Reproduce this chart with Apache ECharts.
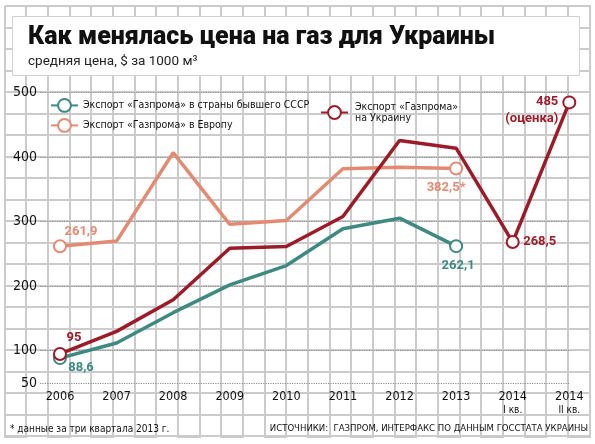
<!DOCTYPE html>
<html lang="ru">

<head>
    <meta charset="UTF-8">
    <title>Как менялась цена на газ для Украины</title>
    <script src="https://cdn.jsdelivr.net/npm/echarts@6/dist/echarts.min.js"></script>
    <style>
        html,
        body {
            margin: 0;
            padding: 0;
            background: #fff;
        }

        #mChart {
            width: 595px;
            height: 444px;
        }
    </style>
</head>

<body>
    <div id="mChart"></div>

    <script type="text/javascript">
        // годы и кварталы по оси X
        var years = ['2006', '2007', '2008', '2009', '2010', '2011', '2012', '2013', '2014', '2014']
        var quarters = ['', '', '', '', '', '', '', '', 'I кв.', 'II кв.']

        // цены, $ за 1000 м3
        var fsu = [88.6, 112, 159, 202, 232, 289, 305.5, 262.1, null, null]
        var europe = [261.9, 270, 407, 296, 302, 382, 384.5, 382.5, null, null]
        var ukraine = [95, 130, 179, 259, 261.5, 308, 426, 414, 268.5, 485]

        // подписи значений (пусто = без подписи и без кружка)
        var fsuLabels = ['88,6', '', '', '', '', '', '', '262,1', '', '']
        var europeLabels = ['261,9', '', '', '', '', '', '', '382,5*', '', '']
        var ukraineLabels = ['95', '', '', '', '', '', '', '', '268,5', '485']

        var yTicks = [50, 100, 200, 300, 400, 500]

        var names = {
            fsu: 'Экспорт «Газпрома» в страны бывшего СССР',
            europe: 'Экспорт «Газпрома» в Европу',
            ukraine: 'Экспорт «Газпрома» на Украину'
        }
        var colors = { fsu: '#3e8a82', europe: '#e38b72', ukraine: '#9c1b28' }

        var labelOffsets = {
            fsu: { 0: [21, 10], 7: [2, 20] },
            europe: { 0: [21, -15], 7: [-10, 19] },
            ukraine: { 0: [14, -16], 8: [27, 0], 9: [-11, 8] }
        }

        var cond = '"DejaVu Sans Condensed", "Liberation Sans Narrow", sans-serif'

        function buildData(values, labels, key) {
            var out = []
            values.forEach(function (v, i) {
                if (v == null) return
                var item = { value: [i, v], symbol: 'none' }
                if (labels[i]) {
                    item.symbol = 'emptyCircle'
                    item.label = {
                        show: true,
                        position: 'inside',
                        offset: labelOffsets[key][i],
                        formatter: labels[i],
                        color: colors[key],
                        fontFamily: 'Roboto',
                        fontWeight: 'bold',
                        fontSize: 13
                    }
                }
                out.push(item)
            })
            return out
        }

        function lineSeries(key, values, labels) {
            return {
                name: names[key],
                type: 'line',
                symbol: 'emptyCircle',
                symbolSize: 12,
                clip: false,
                data: buildData(values, labels, key),
                lineStyle: { color: colors[key], width: 3.5 },
                itemStyle: { color: colors[key], borderWidth: 3 },
                emphasis: { disabled: true }
            }
        }

        var ukraineSeries = lineSeries('ukraine', ukraine, ukraineLabels)
        // последняя точка: 485 (оценка)
        var lastItem = ukraineSeries.data[ukraineSeries.data.length - 1]
        lastItem.label.align = 'right'
        lastItem.label.formatter = '{a|' + ukraineLabels[9] + '}\n{b|(оценка)}'
        lastItem.label.rich = {
            a: { fontFamily: 'Roboto', fontWeight: 'bold', fontSize: 13, lineHeight: 17, color: colors.ukraine, align: 'right' },
            b: { fontFamily: 'Roboto', fontSize: 13, lineHeight: 17, color: colors.ukraine, align: 'right' }
        }

        // фон в клетку: две ломаные «змейкой», лишние отрезки ложатся на рамку
        var paperTop = 6, paperBottom = 437, paperLeft = 5, paperRight = 590
        var vPts = [], hPts = []
        for (var k = 0; k <= 27; k++) {
            var gx = Math.round(4.5 + k * 21.67)
            if (k % 2 === 0) { vPts.push([gx, paperTop], [gx, paperBottom]) } else { vPts.push([gx, paperBottom], [gx, paperTop]) }
        }
        for (var j = 0; j <= 20; j++) {
            var gy = Math.round(6.2 + j * 21.5)
            if (j % 2 === 0) { hPts.push([paperLeft, gy], [paperRight, gy]) } else { hPts.push([paperRight, gy], [paperLeft, gy]) }
        }

        var paperStyle = { fill: null, stroke: '#cbcbcb', lineWidth: 2 }
        var bg = []
        bg.push({ type: 'polyline', id: 'paperV', z: 0, silent: true, shape: { points: vPts }, style: paperStyle })
        bg.push({ type: 'polyline', id: 'paperH', z: 0, silent: true, shape: { points: hPts }, style: paperStyle })
        bg.push({ type: 'rect', id: 'box', z: 1, shape: { x: 12.5, y: 16.5, width: 567, height: 59 }, style: { fill: '#fff', stroke: '#d0d0d0', lineWidth: 1 } })
        bg.push({ type: 'text', id: 'title', z: 5, style: { text: 'Как менялась цена на газ для Украины', x: 28, y: 38, verticalAlign: 'middle', fill: '#111', font: '900 25px Roboto' } })
        bg.push({ type: 'text', id: 'sub', z: 5, style: { text: 'средняя цена, $ за 1000 м³', x: 28, y: 62, verticalAlign: 'middle', fill: '#222', font: '13.5px Roboto' } })
        bg.push({ type: 'text', id: 'note', z: 5, style: { text: '* данные за три квартала 2013 г.', x: 10, y: 429, verticalAlign: 'middle', fill: '#111', font: '10px ' + cond } })
        bg.push({ type: 'text', id: 'src', z: 5, style: { text: 'ИСТОЧНИКИ:  ГАЗПРОМ, ИНТЕРФАКС ПО ДАННЫМ ГОССТАТА УКРАИНЫ', x: 588, y: 429, align: 'right', verticalAlign: 'middle', fill: '#111', font: '9.5px ' + cond } })

        var splitColors = []
        for (var t = 50; t <= 500; t += 50) {
            splitColors.push(yTicks.indexOf(t) > -1 ? '#8e8e8e' : 'rgba(0,0,0,0)')
        }

        var legendText = { fontFamily: cond, fontSize: 10.5, color: '#111' }

        var mChart = echarts.init(document.getElementById('mChart'))
        mChart.setOption({
            animation: false,
            backgroundColor: 'transparent',
            graphic: { elements: bg },
            legend: [{
                data: [names.fsu], left: 50, top: 98, itemWidth: 27, itemHeight: 16, padding: 0,
                selectedMode: false, textStyle: legendText
            }, {
                data: [names.europe], left: 50, top: 118, itemWidth: 27, itemHeight: 16, padding: 0,
                selectedMode: false, textStyle: legendText
            }, {
                data: [names.ukraine], left: 320, top: 96, itemWidth: 27, itemHeight: 16, padding: 0,
                selectedMode: false,
                formatter: function () { return 'Экспорт «Газпрома»\nна Украину' },
                textStyle: { fontFamily: cond, fontSize: 10.5, color: '#111', lineHeight: 11, padding: [11, 0, 0, 2] }
            }],
            grid: { left: 40, right: 25.7, top: 92.7, bottom: 61 },
            xAxis: {
                type: 'value',
                min: -0.3534,
                max: 9,
                axisLine: { show: false },
                axisTick: { show: false },
                splitLine: { show: false },
                axisLabel: {
                    customValues: years.map(function (yr, i) { return i }),
                    margin: 6,
                    formatter: function (v) {
                        var i = Math.round(v)
                        return quarters[i] ? '{y|' + years[i] + '}\n{q|' + quarters[i] + '}' : '{y|' + years[i] + '}'
                    },
                    rich: {
                        y: { fontFamily: cond, fontSize: 12.5, lineHeight: 16, color: '#111' },
                        q: { fontFamily: cond, fontSize: 10, lineHeight: 10, color: '#111' }
                    }
                }
            },
            yAxis: {
                type: 'value',
                min: 50,
                max: 500,
                interval: 50,
                axisLine: { show: false },
                axisTick: { show: false },
                axisLabel: {
                    customValues: yTicks,
                    margin: 3,
                    fontFamily: cond,
                    fontSize: 14,
                    color: '#111'
                },
                splitLine: { lineStyle: { type: 'dotted', color: splitColors, width: 1.2 } }
            },
            series: [
                lineSeries('fsu', fsu, fsuLabels),
                lineSeries('europe', europe, europeLabels),
                ukraineSeries
            ]
        })
    </script>
</body>

</html>
